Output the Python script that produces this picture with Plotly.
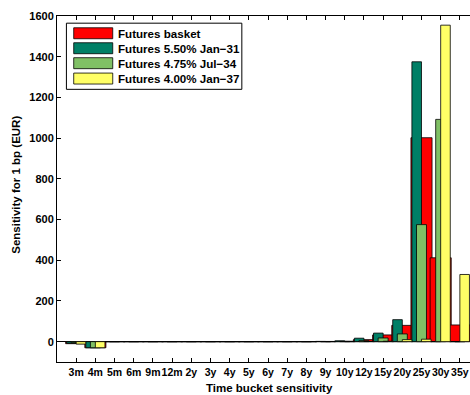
import plotly.graph_objects as go

categories = ['3m', '4m', '5m', '6m', '9m', '12m', '2y', '3y', '4y', '5y', '6y',
              '7y', '8y', '9y', '10y', '12y', '15y', '20y', '25y', '30y', '35y']
basket = [-10, -30, 0, 0, 0, 0, 0, 0, 0, 0, 0, 0, 0, 1, 2, 10, 33, 80, 1002, 412, 82]
fut_jan31 = [-8, -30, 0, 0, 0, 0, 0, 0, 0, 0, 0, 0, 0, 1, 4, 17, 42, 108, 1375, 0, 0]
fut_jul34 = [-5, -30, 0, 0, 0, 0, 0, 0, 0, 0, 0, 0, 0, 0, 1, 5, 18, 38, 575, 1092, 0]
fut_jan37 = [-12, -30, 0, 0, 0, 0, 0, 0, 0, 0, 0, 0, 0, 0, 0, 1, 2, 10, 12, 1555, 330]
series_names = ['Futures basket', 'Futures 5.50% Jan\u221231',
                'Futures 4.75% Jul\u221234', 'Futures 4.00% Jan\u221237']
y_ticks = [0, 200, 400, 600, 800, 1000, 1200, 1400, 1600]

colors = ['#FF0000', '#007F66', '#80C065', '#FFFF66']
widths = [1.1, 0.5, 0.52, 0.5]
centers = [0.0, -0.25, 0.0, 0.25]

W, H = 470, 395
L, T, B = 57.3, 15.5, 362.3
R = 470.0
FONT = 'Liberation Sans, Arial, sans-serif'

xpos = list(range(1, len(categories) + 1))
fig = go.Figure()
for name, vals, c, w, ctr in zip(series_names, [basket, fut_jan31, fut_jul34, fut_jan37],
                                  colors, widths, centers):
    fig.add_trace(go.Bar(x=xpos, y=vals, name=name, width=w, offset=ctr - w / 2,
                         marker=dict(color=c, line=dict(color='black', width=0.8)),
                         showlegend=False))

px_per_cat = 19.17
x_end = (R - L) / px_per_cat

fig.update_layout(
    width=W, height=H, barmode='overlay',
    margin=dict(l=L, r=W - R, t=T, b=H - B, pad=0),
    plot_bgcolor='white', paper_bgcolor='white',
    font=dict(family=FONT, size=11, color='black'),
    xaxis=dict(range=[0, x_end], tickvals=xpos, ticktext=categories, tickangle=0,
               ticks='inside', ticklen=4, tickcolor='black', showline=True,
               linecolor='black', linewidth=1, mirror='ticks', showgrid=False,
               zeroline=False, tickfont=dict(family=FONT, size=10.5, weight='bold')),
    yaxis=dict(range=[-100, 1600], tickvals=y_ticks, ticks='inside', ticklen=4,
               tickcolor='black', showline=True, linecolor='black', linewidth=1,
               showgrid=False, zeroline=True, zerolinecolor='black', zerolinewidth=1,
               tickfont=dict(family=FONT, size=11, weight='bold')),
)

def px2paper(px, py):
    return (px - L) / (R - L), (B - py) / (B - T)

shapes = []
annotations = []
# legend box
x0, y0 = px2paper(66.7, 89)
x1, y1 = px2paper(242, 22.7)
shapes.append(dict(type='rect', xref='paper', yref='paper', x0=x0, y0=y0, x1=x1, y1=y1,
                   fillcolor='white', line=dict(color='black', width=1), layer='above'))
row_centers = [32.8, 47.8, 62.8, 78.2]
for name, c, rc in zip(series_names, colors, row_centers):
    a0, b0 = px2paper(74, rc + 5.5)
    a1, b1 = px2paper(113, rc - 5.5)
    shapes.append(dict(type='rect', xref='paper', yref='paper', x0=a0, y0=b0, x1=a1, y1=b1,
                       fillcolor=c, line=dict(color='black', width=0.8), layer='above'))
    tx, ty = px2paper(116.5, rc)
    annotations.append(dict(xref='paper', yref='paper', x=tx, y=ty, text='<b>%s</b>' % name,
                            showarrow=False, xanchor='left', yanchor='middle',
                            font=dict(family=FONT, size=11.6, color='black')))

# axis titles
tx, ty = px2paper(270, 388)
annotations.append(dict(xref='paper', yref='paper', x=tx, y=ty,
                        text='<b>Time bucket sensitivity</b>', showarrow=False,
                        xanchor='center', yanchor='middle',
                        font=dict(family=FONT, size=11.5, color='black')))
tx, ty = px2paper(16, 185)
annotations.append(dict(xref='paper', yref='paper', x=tx, y=ty,
                        text='<b>Sensitivity for 1 bp (EUR)</b>', showarrow=False,
                        xanchor='center', yanchor='middle', textangle=-90,
                        font=dict(family=FONT, size=11.5, color='black')))

fig.update_layout(shapes=shapes, annotations=annotations)
fig.write_html('out.html')
